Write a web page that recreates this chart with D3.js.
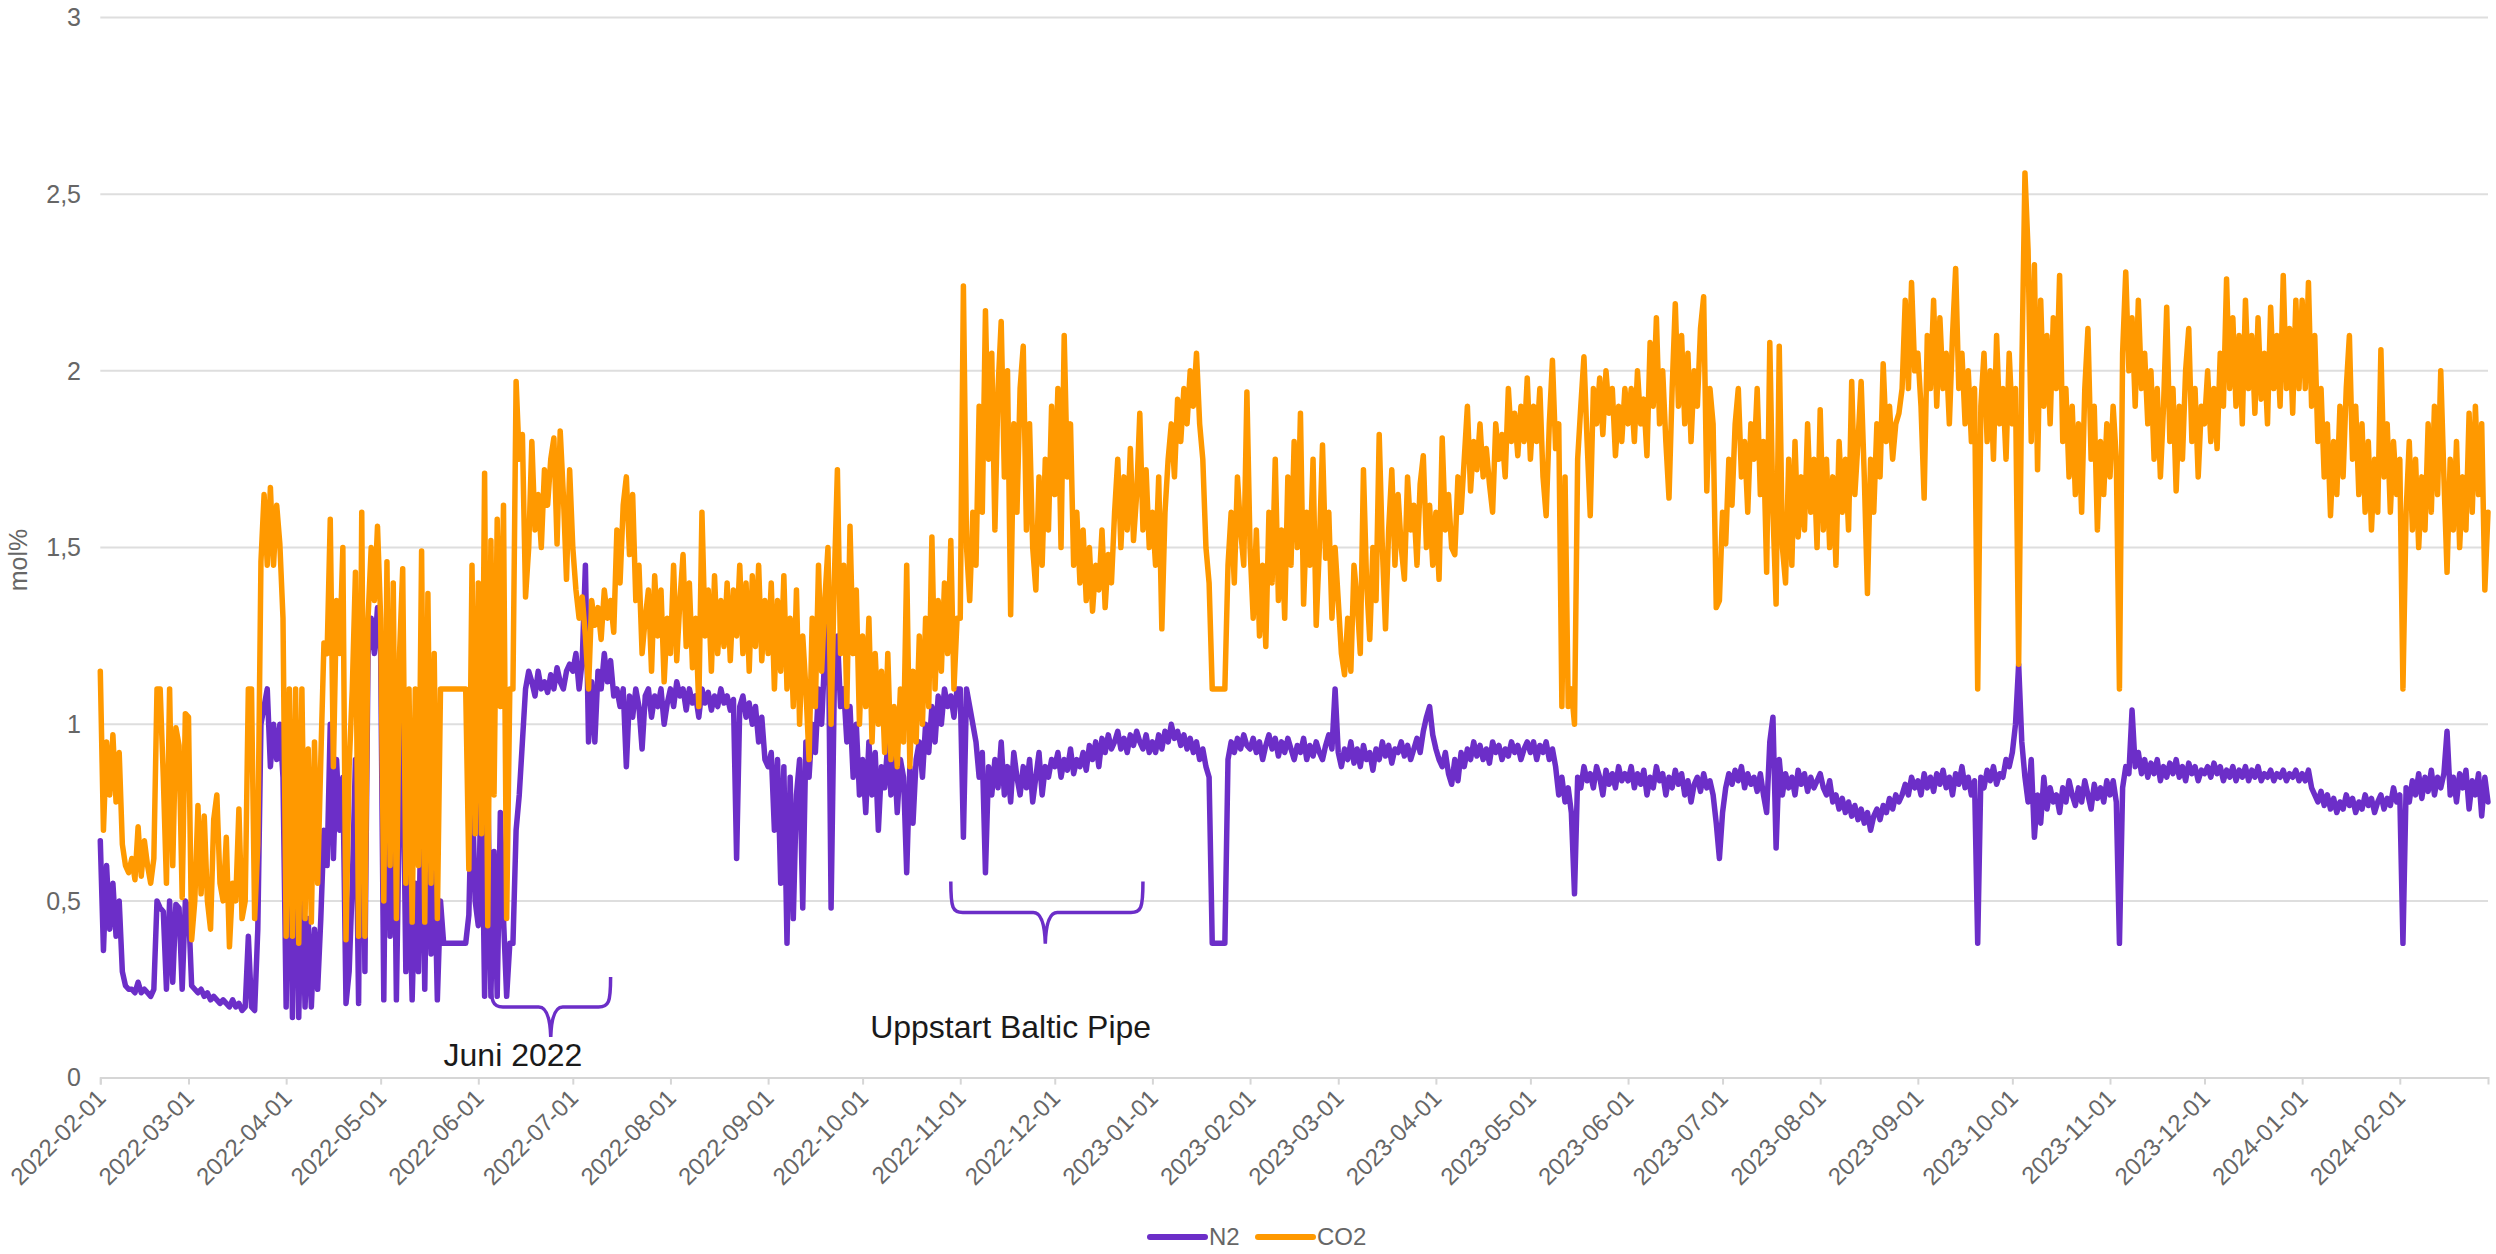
<!DOCTYPE html>
<html><head><meta charset="utf-8">
<script src="https://cdn.jsdelivr.net/npm/d3@7"></script>
<style>
body{margin:0;background:#fff;}
svg{display:block;font-family:"Liberation Sans",Arial,sans-serif;}
</style>
</head><body>
<svg id="chart" width="2496" height="1254"></svg>
<script>
// ---------------- DATA (daily values, one inner array per month) ----------------
const firstMonth = "2022-02-01";
const seriesNames = ["N2", "CO2"];
const yTickValues = [0, 0.5, 1, 1.5, 2, 2.5, 3];

const n2_2022 = [
 [0.67,0.36,0.60,0.42,0.55,0.40,0.50,0.30,0.26,0.25,0.25,0.24,0.27,0.24,0.25,0.24,0.23,0.25,0.50,0.48,0.47,0.25,0.50,0.27,0.49,0.48,0.25,0.50],
 [0.48,0.26,0.25,0.24,0.25,0.23,0.24,0.22,0.23,0.22,0.21,0.22,0.21,0.20,0.22,0.20,0.21,0.19,0.20,0.40,0.20,0.19,0.42,1.00,1.05,1.10,0.88,1.00,0.90,1.00,0.85],
 [0.20,0.90,0.17,0.85,0.17,0.60,0.20,0.45,0.20,0.42,0.25,0.45,0.70,0.60,1.00,0.62,0.90,0.70,0.85,0.21,0.30,0.55,0.90,0.21,1.25,0.30,1.20,1.30,1.20,1.33],
 [1.20,0.22,1.12,0.40,1.00,0.22,0.80,1.00,0.30,0.60,0.22,0.55,0.30,0.90,0.25,0.80,0.35,0.65,0.22,0.50,0.38,0.38,0.38,0.38,0.38,0.38,0.38,0.38,0.46,0.85,0.50],
 [0.43,0.90,0.23,0.85,0.23,0.64,0.23,0.75,0.45,0.23,0.38,0.38,0.70,0.80,0.95,1.10,1.15,1.12,1.08,1.15,1.10,1.12,1.09,1.14,1.10,1.16,1.12,1.10,1.15,1.17],
 [1.15,1.20,1.10,1.18,1.45,0.95,1.12,0.95,1.15,1.10,1.20,1.12,1.18,1.08,1.10,1.05,1.10,0.88,1.08,1.02,1.10,1.05,0.93,1.08,1.10,1.02,1.08,1.05,1.10,1.00,1.06],
 [1.10,1.05,1.12,1.08,1.10,1.04,1.10,1.06,1.08,1.02,1.10,1.06,1.09,1.04,1.08,1.05,1.10,1.06,1.08,1.04,1.07,0.62,1.05,1.08,1.02,1.06,1.00,1.05,0.95,1.02,0.90],
 [0.88,0.92,0.70,0.90,0.55,0.88,0.38,0.85,0.45,0.80,0.90,0.48,0.95,0.85,1.00,0.92,1.10,1.00,1.20,1.40,0.48,1.10,1.25,1.05,1.10,0.95,1.05,0.85,1.00,0.80],
 [0.90,0.75,0.95,0.80,0.92,0.70,0.88,0.82,0.95,0.80,0.92,0.75,0.90,0.85,0.58,0.88,0.72,0.90,0.95,0.85,1.00,0.92,1.05,0.95,1.08,1.00,1.10,1.05,1.08,1.02,1.10],
 [1.10,0.68,1.10,1.05,1.00,0.95,0.85,0.92,0.58,0.88,0.80,0.90,0.82,0.95,0.80,0.88,0.78,0.92,0.85,0.80,0.88,0.82,0.90,0.78,0.85,0.92,0.80,0.88,0.85,0.90],
 [0.88,0.92,0.85,0.90,0.87,0.93,0.86,0.90,0.88,0.92,0.87,0.94,0.90,0.95,0.88,0.96,0.92,0.97,0.93,0.95,0.98,0.93,0.96,0.92,0.97,0.94,0.98,0.95,0.93,0.97,0.92]
];
const co2_2022 = [
 [1.15,0.70,0.95,0.80,0.97,0.78,0.92,0.66,0.60,0.58,0.62,0.56,0.71,0.57,0.67,0.60,0.55,0.62,1.10,1.10,0.85,0.55,1.10,0.60,0.99,0.94,0.51,1.03],
 [1.02,0.39,0.50,0.77,0.52,0.74,0.50,0.42,0.73,0.80,0.55,0.50,0.68,0.37,0.55,0.50,0.76,0.45,0.50,1.10,1.10,0.45,0.66,1.46,1.65,1.45,1.67,1.45,1.62,1.51,1.30],
 [0.40,1.10,0.40,1.10,0.38,1.10,0.45,0.93,0.44,0.95,0.55,0.90,1.23,1.20,1.58,0.88,1.35,1.20,1.50,0.39,0.88,1.10,1.43,0.40,1.60,0.40,1.30,1.50,1.35,1.56],
 [1.30,0.50,1.46,0.60,1.40,0.45,1.20,1.44,0.55,1.10,0.44,1.10,0.60,1.49,0.44,1.37,0.55,1.20,0.45,1.10,1.10,1.10,1.10,1.10,1.10,1.10,1.10,1.10,0.59,1.45,0.69],
 [1.40,0.69,1.71,0.43,1.52,0.80,1.58,1.05,1.62,0.45,1.10,1.10,1.97,1.75,1.82,1.36,1.50,1.80,1.55,1.65,1.50,1.72,1.62,1.75,1.81,1.51,1.83,1.65,1.41,1.72],
 [1.50,1.38,1.30,1.36,1.25,1.10,1.35,1.28,1.33,1.24,1.38,1.30,1.35,1.26,1.55,1.40,1.62,1.70,1.48,1.65,1.35,1.45,1.20,1.30,1.38,1.15,1.42,1.25,1.38,1.12,1.30],
 [1.20,1.45,1.18,1.35,1.48,1.22,1.40,1.16,1.30,1.05,1.60,1.25,1.38,1.15,1.42,1.20,1.35,1.22,1.40,1.18,1.38,1.25,1.45,1.20,1.40,1.15,1.42,1.22,1.45,1.18,1.35],
 [1.20,1.40,1.10,1.35,1.15,1.42,1.10,1.30,1.05,1.38,1.00,1.25,1.10,0.90,1.30,1.05,1.45,1.15,1.35,1.50,1.00,1.40,1.72,1.20,1.45,1.05,1.56,1.20,1.38,1.00],
 [1.25,1.05,1.30,0.95,1.20,1.00,1.15,0.92,1.20,0.90,1.05,0.88,1.10,0.95,1.45,0.88,1.15,0.95,1.25,1.00,1.30,1.05,1.53,1.10,1.35,1.15,1.40,1.20,1.52,1.10,1.30],
 [1.30,2.24,1.50,1.35,1.60,1.45,1.90,1.60,2.17,1.75,2.05,1.55,1.95,2.14,1.70,2.00,1.31,1.85,1.60,1.95,2.07,1.55,1.85,1.50,1.38,1.70,1.45,1.75,1.55,1.90],
 [1.65,1.95,1.50,2.10,1.70,1.85,1.45,1.60,1.40,1.55,1.35,1.50,1.32,1.45,1.38,1.55,1.33,1.48,1.40,1.60,1.75,1.50,1.70,1.55,1.78,1.52,1.65,1.88,1.55,1.72,1.50]
];
const n2_2023 = [
 [0.95,0.92,0.97,0.93,0.98,0.95,1.00,0.96,0.98,0.94,0.97,0.93,0.96,0.92,0.95,0.90,0.93,0.88,0.85,0.38,0.38,0.38,0.38,0.38,0.90,0.95,0.92,0.96,0.93,0.97,0.94],
 [0.93,0.96,0.92,0.95,0.90,0.94,0.97,0.93,0.96,0.91,0.95,0.92,0.96,0.93,0.90,0.94,0.92,0.96,0.90,0.94,0.91,0.95,0.92,0.90,0.94,0.97,0.93,1.10],
 [0.92,0.88,0.93,0.90,0.95,0.89,0.93,0.88,0.94,0.90,0.92,0.87,0.93,0.90,0.95,0.91,0.94,0.89,0.93,0.92,0.95,0.91,0.94,0.90,0.93,0.96,0.92,0.98,1.02,1.05,0.97],
 [0.93,0.90,0.88,0.92,0.86,0.83,0.90,0.84,0.92,0.88,0.93,0.90,0.95,0.91,0.94,0.90,0.93,0.89,0.95,0.92,0.94,0.90,0.93,0.91,0.95,0.92,0.94,0.90,0.93,0.95],
 [0.92,0.95,0.90,0.94,0.92,0.95,0.90,0.93,0.88,0.80,0.85,0.78,0.82,0.75,0.52,0.85,0.82,0.88,0.84,0.86,0.82,0.88,0.85,0.80,0.87,0.83,0.86,0.82,0.88,0.84,0.86],
 [0.84,0.88,0.82,0.86,0.83,0.87,0.80,0.85,0.82,0.88,0.84,0.86,0.80,0.85,0.82,0.87,0.83,0.86,0.80,0.84,0.78,0.83,0.85,0.81,0.86,0.82,0.84,0.80,0.72,0.62],
 [0.75,0.82,0.86,0.83,0.87,0.84,0.88,0.82,0.86,0.83,0.85,0.81,0.86,0.80,0.75,0.95,1.02,0.65,0.90,0.80,0.86,0.82,0.85,0.80,0.87,0.83,0.86,0.81,0.85,0.82,0.84],
 [0.86,0.82,0.80,0.84,0.78,0.80,0.76,0.79,0.75,0.78,0.74,0.77,0.73,0.76,0.72,0.75,0.70,0.74,0.76,0.73,0.77,0.75,0.79,0.76,0.80,0.78,0.80,0.83,0.80,0.85,0.82],
 [0.84,0.80,0.86,0.82,0.85,0.81,0.86,0.83,0.87,0.82,0.85,0.80,0.86,0.83,0.88,0.82,0.85,0.80,0.84,0.38,0.85,0.82,0.87,0.84,0.88,0.83,0.86,0.85,0.90,0.88],
 [0.92,1.00,1.17,0.95,0.85,0.78,0.90,0.68,0.80,0.72,0.85,0.76,0.82,0.78,0.80,0.75,0.82,0.78,0.84,0.80,0.77,0.82,0.78,0.84,0.80,0.76,0.83,0.79,0.82,0.78,0.84],
 [0.80,0.84,0.78,0.38,0.82,0.88,0.86,1.04,0.88,0.92,0.86,0.90,0.85,0.89,0.86,0.90,0.84,0.88,0.85,0.89,0.86,0.90,0.85,0.88,0.84,0.89,0.86,0.88,0.84,0.87],
 [0.86,0.88,0.85,0.89,0.86,0.88,0.84,0.87,0.85,0.88,0.84,0.87,0.85,0.88,0.84,0.87,0.85,0.88,0.84,0.86,0.85,0.87,0.84,0.86,0.85,0.87,0.84,0.86,0.85,0.87,0.84]
];
const co2_2023 = [
 [1.60,1.45,1.70,1.27,1.60,1.75,1.85,1.70,1.92,1.80,1.95,1.85,2.00,1.90,2.05,1.85,1.75,1.50,1.40,1.10,1.10,1.10,1.10,1.10,1.45,1.60,1.40,1.70,1.55,1.45,1.94],
 [1.50,1.30,1.55,1.25,1.45,1.22,1.60,1.40,1.75,1.35,1.55,1.30,1.70,1.45,1.80,1.50,1.88,1.34,1.60,1.45,1.75,1.28,1.50,1.79,1.47,1.60,1.30,1.50],
 [1.35,1.20,1.14,1.30,1.15,1.45,1.35,1.20,1.72,1.40,1.24,1.50,1.35,1.82,1.50,1.27,1.55,1.72,1.45,1.65,1.50,1.41,1.70,1.55,1.62,1.45,1.68,1.76,1.50,1.62,1.45],
 [1.60,1.41,1.81,1.55,1.65,1.50,1.48,1.70,1.60,1.75,1.90,1.66,1.80,1.72,1.85,1.70,1.78,1.68,1.60,1.85,1.75,1.82,1.70,1.95,1.80,1.88,1.76,1.90,1.80,1.98],
 [1.75,1.90,1.80,1.95,1.70,1.59,1.85,2.03,1.78,1.85,1.05,1.70,1.05,1.10,1.00,1.75,1.90,2.04,1.80,1.59,1.95,1.85,1.98,1.82,2.00,1.88,1.95,1.76,1.90,1.80,1.95],
 [1.85,1.95,1.80,2.00,1.85,1.92,1.76,2.08,1.90,2.15,1.85,2.00,1.80,1.64,1.95,2.19,1.90,2.10,1.85,2.05,1.80,2.00,1.90,2.12,2.21,1.66,1.95,1.85,1.33,1.35],
 [1.60,1.51,1.75,1.62,1.85,1.95,1.70,1.80,1.60,1.85,1.75,1.95,1.65,1.80,1.43,2.08,1.60,1.34,2.07,1.50,1.40,1.75,1.45,1.80,1.53,1.70,1.55,1.85,1.60,1.75,1.50],
 [1.89,1.55,1.75,1.50,1.70,1.45,1.80,1.60,1.75,1.55,1.97,1.65,1.80,1.97,1.70,1.37,1.75,1.60,1.85,1.70,2.02,1.80,1.90,1.75,1.85,1.88,1.95,2.20,1.95,2.25,2.00],
 [2.05,1.90,1.64,2.10,1.95,2.20,1.90,2.15,1.95,2.05,1.85,2.10,2.29,1.95,2.05,1.85,2.00,1.80,1.95,1.10,1.90,2.05,1.80,2.00,1.75,2.10,1.85,1.95,1.75,2.05],
 [1.85,1.95,1.17,2.00,2.56,2.34,1.80,2.30,1.72,2.20,1.90,2.10,1.85,2.15,1.95,2.27,1.80,1.95,1.70,1.90,1.65,1.85,1.60,1.95,2.12,1.75,1.90,1.55,1.80,1.65,1.85],
 [1.70,1.90,1.75,1.10,2.05,2.28,2.00,2.15,1.90,2.20,1.95,2.05,1.85,2.00,1.75,1.95,1.70,1.90,2.18,1.80,1.95,1.66,1.90,1.75,2.00,2.12,1.80,1.95,1.70,1.90],
 [1.85,2.00,1.80,1.95,1.78,2.05,1.90,2.26,1.95,2.15,1.90,2.10,1.85,2.20,1.95,2.10,1.88,2.15,1.92,2.05,1.85,2.18,1.95,2.10,1.90,2.27,1.95,2.12,1.88,2.20,1.95]
];
const n2_2024 = [
 [0.86,0.84,0.87,0.82,0.80,0.78,0.81,0.77,0.80,0.76,0.79,0.75,0.78,0.76,0.80,0.77,0.79,0.75,0.78,0.76,0.80,0.77,0.79,0.75,0.78,0.80,0.76,0.79,0.77,0.82,0.78],
 [0.80,0.38,0.82,0.78,0.84,0.80,0.86,0.79,0.85,0.81,0.87,0.80,0.85,0.82,0.86,0.98,0.80,0.85,0.78,0.86,0.82,0.87,0.76,0.84,0.80,0.86,0.74,0.85,0.78]
];
const co2_2024 = [
 [2.20,1.95,2.25,1.90,2.10,1.80,1.95,1.70,1.85,1.59,1.80,1.65,1.90,1.70,1.95,2.10,1.75,1.90,1.65,1.85,1.60,1.80,1.55,1.75,1.60,2.06,1.70,1.85,1.60,1.80,1.65],
 [1.75,1.10,1.60,1.80,1.55,1.75,1.50,1.70,1.55,1.85,1.60,1.90,1.65,2.00,1.70,1.43,1.75,1.55,1.80,1.50,1.70,1.55,1.88,1.60,1.90,1.65,1.85,1.38,1.60]
];

// annotations: brace anchored in data coordinates
const annotations = [
 {label: "Juni 2022", from: "2022-06-05", to: "2022-07-13", tip: "2022-06-24", top: 0.285, mid: 0.2, low: 0.115, textAt: "2022-06-12", textV: 0.033},
 {label: "Uppstart Baltic Pipe", from: "2022-10-29", to: "2022-12-29", tip: "2022-11-28", top: 0.555, mid: 0.467, low: 0.379, textAt: "2022-11-17", textV: 0.112}
];

// ---------------- BUILD ----------------
const colors = {N2: "#6c2ec8", CO2: "#ff9900"};
const parse = d3.utcParse("%Y-%m-%d");
const start = parse(firstMonth);
const endDate = parse("2024-02-29");

function build(monthArrays) {
  const out = [];
  monthArrays.forEach((vals, mi) => {
    const m0 = d3.utcMonth.offset(start, mi);
    vals.forEach((v, i) => out.push({date: d3.utcDay.offset(m0, i), v}));
  });
  return out;
}
const series = {
  N2: build([...n2_2022, ...n2_2023, ...n2_2024]),
  CO2: build([...co2_2022, ...co2_2023, ...co2_2024])
};

const svg = d3.select("#chart");
const L = 100.3, R = 2488, T = 17.5, B = 1077.6;
const x = d3.scaleUtc().domain([start, endDate]).range([L, R]);
const y = d3.scaleLinear().domain([0, 3]).range([B, T]);
const fmtY = v => String(v).replace(".", ",");

// gridlines
svg.append("g").selectAll("line").data(yTickValues.filter(v => v > 0)).join("line")
  .attr("x1", L).attr("x2", R).attr("y1", d => y(d)).attr("y2", d => y(d))
  .attr("stroke", "#dedede").attr("stroke-width", 2);

// y labels
svg.append("g").selectAll("text").data(yTickValues).join("text")
  .attr("x", 81).attr("y", d => y(d)).attr("dy", "0.35em")
  .attr("text-anchor", "end").attr("font-size", 25).attr("fill", "#666")
  .text(fmtY);

// y title
svg.append("text").attr("transform", "translate(27,560) rotate(-90)")
  .attr("text-anchor", "middle").attr("font-size", 25).attr("fill", "#666").text("mol%");

// x axis
const xTicks = d3.utcMonth.range(start, d3.utcDay.offset(endDate, 1));
const xAxis = d3.axisBottom(x).tickValues(xTicks).tickSize(7).tickSizeOuter(7).tickFormat("");
const gx = svg.append("g").attr("transform", `translate(0,${B})`).call(xAxis);
gx.select(".domain").attr("stroke", "#d6d6d6").attr("stroke-width", 2);
gx.selectAll(".tick line").attr("stroke", "#d6d6d6").attr("stroke-width", 2);

const fmtX = d3.utcFormat("%Y-%m-%d");
svg.append("g").selectAll("text").data(xTicks).join("text")
  .attr("transform", d => `translate(${x(d) + 7},${B + 22}) rotate(-45)`)
  .attr("text-anchor", "end").attr("font-size", 24).attr("fill", "#666")
  .text(fmtX);

// lines
const line = d3.line().x(d => x(d.date)).y(d => y(d.v));
seriesNames.forEach(name => {
  svg.append("path").datum(series[name])
    .attr("d", line).attr("fill", "none")
    .attr("stroke", colors[name]).attr("stroke-width", 5.5)
    .attr("stroke-linejoin", "round").attr("stroke-linecap", "round");
});

// annotations
annotations.forEach(a => {
  const x0 = x(parse(a.from)), x1 = x(parse(a.to)), xc = x(parse(a.tip));
  const yt = y(a.top), ym = y(a.mid), yl = y(a.low);
  const r = 12;
  const p = d3.path();
  p.moveTo(x0, yt);
  p.bezierCurveTo(x0, ym - 4, x0 + 2, ym, x0 + r, ym);
  p.lineTo(xc - r, ym);
  p.quadraticCurveTo(xc - 1, ym, xc, yl);
  p.quadraticCurveTo(xc + 1, ym, xc + r, ym);
  p.lineTo(x1 - r, ym);
  p.bezierCurveTo(x1 - 2, ym, x1, ym - 4, x1, yt);
  svg.append("path").attr("d", p.toString()).attr("fill", "none")
    .attr("stroke", colors.N2).attr("stroke-width", 3.5);
  svg.append("text").attr("x", x(parse(a.textAt))).attr("y", y(a.textV))
    .attr("text-anchor", "middle").attr("font-size", 32).attr("fill", "#1a1a1a")
    .text(a.label);
});

// legend
const legend = svg.append("g");
const legItems = [{name: "N2", x0: 1150}, {name: "CO2", x0: 1258}];
legItems.forEach(it => {
  legend.append("line").attr("x1", it.x0).attr("x2", it.x0 + 55).attr("y1", 1237).attr("y2", 1237)
    .attr("stroke", colors[it.name]).attr("stroke-width", 6).attr("stroke-linecap", "round");
  legend.append("text").attr("x", it.x0 + 59).attr("y", 1237).attr("dy", "0.35em")
    .attr("font-size", 24).attr("fill", "#666").text(it.name);
});
</script>
</body></html>
